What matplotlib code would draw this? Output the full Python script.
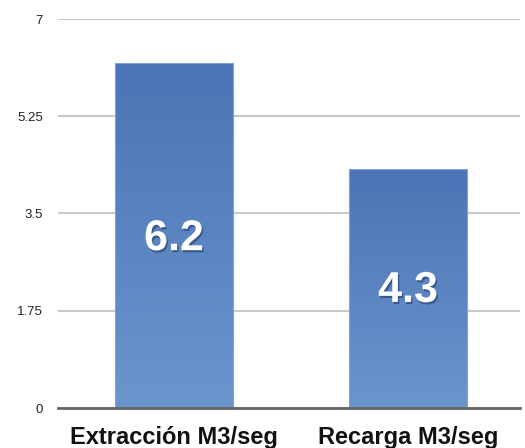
import numpy as np
import matplotlib
matplotlib.use("Agg")
import matplotlib.pyplot as plt
import matplotlib.patheffects as pe
from matplotlib.colors import LinearSegmentedColormap

categories = ["Extracción M3/seg", "Recarga M3/seg"]
values = [6.2, 4.3]
yticks = [0, 1.75, 3.5, 5.25, 7]
ytick_labels = ["0", "1.75", "3.5", "5.25", "7"]

plt.rcParams['font.family'] = ['Liberation Sans', 'DejaVu Sans']

fig = plt.figure(figsize=(5.25, 4.48), dpi=100)
ax = fig.add_axes([58/525, 40/448, 462/525, 389/448])

x = np.arange(len(categories))
width = 0.504
bars = ax.bar(x, values, width=width, color='none', edgecolor='none', zorder=3)

cmap = LinearSegmentedColormap.from_list('g', ['#6b95cd', '#4b74b6'])
grad = np.linspace(0, 1, 256).reshape(-1, 1)
for b in bars:
    x0, y0 = b.get_x(), b.get_y()
    w, h = b.get_width(), b.get_height()
    im = ax.imshow(grad, cmap=cmap, origin='lower', aspect='auto',
                   extent=[x0, x0 + w, y0, y0 + h], zorder=3)
    im.set_clip_path(b)
    ax.add_patch(plt.Rectangle((x0, y0), w, h, fill=False,
                               edgecolor='#7ea3d6', lw=0.8, zorder=4))

for xi, v in zip(x, values):
    ax.text(xi, v * 0.49, f"{v}", ha='center', va='center',
            color='white', fontsize=31, fontweight='bold', zorder=5,
            path_effects=[pe.withSimplePatchShadow(offset=(1, -1.5), shadow_rgbFace='#1f3a66', alpha=0.6)])

ax.set_xlim(-0.4957, 1.4786)
ax.set_ylim(0, 7)
ax.set_yticks(yticks)
ax.set_yticklabels(ytick_labels, fontsize=9.5, color='#222222')
ax.set_xticks(x)
ax.set_xticklabels(categories, fontsize=17, fontweight='bold', color='#111111')
ax.tick_params(axis='y', length=0, pad=11)
ax.tick_params(axis='x', length=0, pad=13)
ax.yaxis.grid(True, color='#c9c9c9', lw=1.5, zorder=0)
ax.set_axisbelow(True)
for s in ['top', 'right', 'left']:
    ax.spines[s].set_visible(False)
ax.spines['bottom'].set_color('#666666')
ax.spines['bottom'].set_linewidth(2)
ax.spines['bottom'].set_zorder(6)

fig.savefig('out.png', dpi=100)
